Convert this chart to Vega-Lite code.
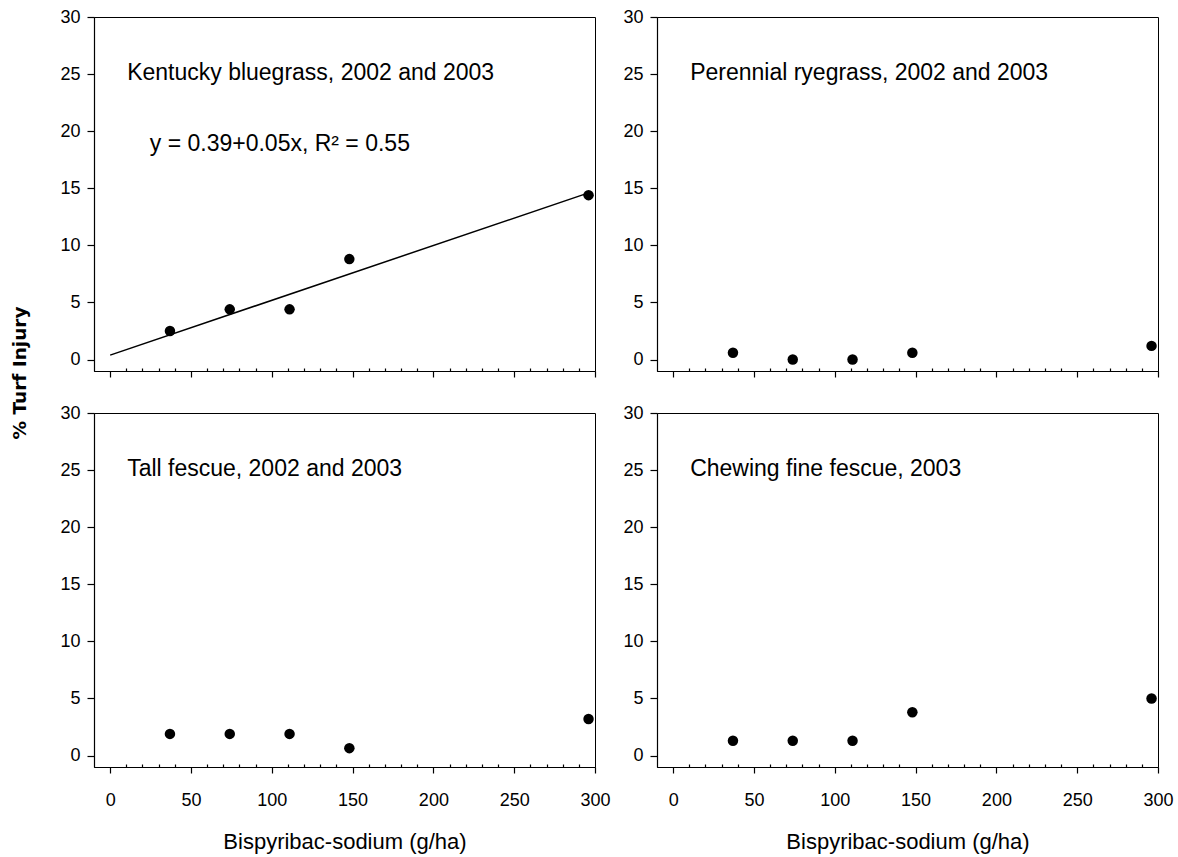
{
  "$schema": "https://vega.github.io/schema/vega-lite/v6.json",
  "background": "white",
  "padding": {"left": 10, "top": 7, "right": 5, "bottom": 5},
  "title": {"text": "% Turf Injury", "orient": "left", "anchor": "middle", "font": "DejaVu Sans", "fontSize": 18.5, "fontWeight": "bold", "color": "black", "offset": 30, "dx": 57},
  "datasets": {
    "pts": [
      {"panel": "KB", "rate": 37, "injury": 2.5},
      {"panel": "KB", "rate": 74, "injury": 4.4},
      {"panel": "KB", "rate": 111, "injury": 4.4},
      {"panel": "KB", "rate": 148, "injury": 8.8},
      {"panel": "KB", "rate": 296, "injury": 14.4},
      {"panel": "PR", "rate": 37, "injury": 0.6},
      {"panel": "PR", "rate": 74, "injury": 0},
      {"panel": "PR", "rate": 111, "injury": 0},
      {"panel": "PR", "rate": 148, "injury": 0.6},
      {"panel": "PR", "rate": 296, "injury": 1.2},
      {"panel": "TF", "rate": 37, "injury": 1.9},
      {"panel": "TF", "rate": 74, "injury": 1.9},
      {"panel": "TF", "rate": 111, "injury": 1.9},
      {"panel": "TF", "rate": 148, "injury": 0.65},
      {"panel": "TF", "rate": 296, "injury": 3.2},
      {"panel": "CF", "rate": 37, "injury": 1.3},
      {"panel": "CF", "rate": 74, "injury": 1.3},
      {"panel": "CF", "rate": 111, "injury": 1.3},
      {"panel": "CF", "rate": 148, "injury": 3.8},
      {"panel": "CF", "rate": 296, "injury": 5.0}
    ],
    "fit": [
      {"panel": "KB", "rate": 0, "injury": 0.39},
      {"panel": "KB", "rate": 296, "injury": 14.6}
    ],
    "notes": [
      {"panel": "KB", "rate": 10.5, "injury": 25.1, "label": "Kentucky bluegrass, 2002 and 2003", "kind": "title"},
      {"panel": "KB", "rate": 24.5, "injury": 18.9, "label": "y = 0.39+0.05x, R² = 0.55", "kind": "eq"},
      {"panel": "PR", "rate": 10.5, "injury": 25.1, "label": "Perennial ryegrass, 2002 and 2003", "kind": "title"},
      {"panel": "TF", "rate": 10.5, "injury": 25.1, "label": "Tall fescue, 2002 and 2003", "kind": "title"},
      {"panel": "CF", "rate": 10.5, "injury": 25.1, "label": "Chewing fine fescue, 2003", "kind": "title"}
    ]
  },
  "columns": 2,
  "spacing": {"row": 42, "column": 62},
  "bounds": "flush",
  "concat": [
    {
      "width": 501, "height": 354,
      "encoding": {
        "x": {"field": "rate", "type": "quantitative", "scale": {"domain": [-10, 300], "nice": false, "zero": false},
          "axis": {"values": [0,10,20,30,40,50,60,70,80,90,100,110,120,130,140,150,160,170,180,190,200,210,220,230,240,250,260,270,280,290,300], "labels": false, "title": null, "tickSize": {"condition": {"test": "datum.value % 50 === 0", "value": 6}, "value": -3}}},
        "y": {"field": "injury", "type": "quantitative", "scale": {"domain": [-1, 30], "nice": false, "zero": false}, "axis": {"values": [0,5,10,15,20,25,30], "title": null}}
      },
      "layer": [
        {
          "data": {"name": "fit"},
          "transform": [{"filter": "datum.panel === 'KB'"}],
          "mark": {"type": "line", "color": "black", "strokeWidth": 1.5}
        },
        {
          "data": {"name": "pts"},
          "transform": [{"filter": "datum.panel === 'KB'"}],
          "mark": {"type": "point", "filled": true, "size": 110, "color": "black", "opacity": 1}
        },
        {
          "data": {"name": "notes"},
          "transform": [{"filter": "datum.panel === 'KB' && datum.kind === 'title'"}],
          "mark": {"type": "text", "align": "left", "baseline": "middle", "font": "Liberation Sans", "fontSize": 23, "color": "black"},
          "encoding": {"text": {"field": "label"}}
        },
        {
          "data": {"name": "notes"},
          "transform": [{"filter": "datum.panel === 'KB' && datum.kind === 'eq'"}],
          "mark": {"type": "text", "align": "left", "baseline": "middle", "font": "Liberation Sans", "fontSize": 23, "color": "black"},
          "encoding": {"text": {"field": "label"}}
        }
      ]
    },
    {
      "width": 501, "height": 354,
      "encoding": {
        "x": {"field": "rate", "type": "quantitative", "scale": {"domain": [-10, 300], "nice": false, "zero": false},
          "axis": {"values": [0,10,20,30,40,50,60,70,80,90,100,110,120,130,140,150,160,170,180,190,200,210,220,230,240,250,260,270,280,290,300], "labels": false, "title": null, "tickSize": {"condition": {"test": "datum.value % 50 === 0", "value": 6}, "value": -3}}},
        "y": {"field": "injury", "type": "quantitative", "scale": {"domain": [-1, 30], "nice": false, "zero": false}, "axis": {"values": [0,5,10,15,20,25,30], "title": null}}
      },
      "layer": [
        {
          "data": {"name": "pts"},
          "transform": [{"filter": "datum.panel === 'PR'"}],
          "mark": {"type": "point", "filled": true, "size": 110, "color": "black", "opacity": 1}
        },
        {
          "data": {"name": "notes"},
          "transform": [{"filter": "datum.panel === 'PR'"}],
          "mark": {"type": "text", "align": "left", "baseline": "middle", "font": "Liberation Sans", "fontSize": 23, "color": "black"},
          "encoding": {"text": {"field": "label"}}
        }
      ]
    },
    {
      "width": 501, "height": 354,
      "encoding": {
        "x": {"field": "rate", "type": "quantitative", "scale": {"domain": [-10, 300], "nice": false, "zero": false},
          "axis": {"values": [0,10,20,30,40,50,60,70,80,90,100,110,120,130,140,150,160,170,180,190,200,210,220,230,240,250,260,270,280,290,300], "labelExpr": "datum.value % 50 === 0 ? datum.label : ''", "title": "Bispyribac-sodium (g/ha)", "tickSize": {"condition": {"test": "datum.value % 50 === 0", "value": 6}, "value": -3}}},
        "y": {"field": "injury", "type": "quantitative", "scale": {"domain": [-1, 30], "nice": false, "zero": false}, "axis": {"values": [0,5,10,15,20,25,30], "title": null}}
      },
      "layer": [
        {
          "data": {"name": "pts"},
          "transform": [{"filter": "datum.panel === 'TF'"}],
          "mark": {"type": "point", "filled": true, "size": 110, "color": "black", "opacity": 1}
        },
        {
          "data": {"name": "notes"},
          "transform": [{"filter": "datum.panel === 'TF'"}],
          "mark": {"type": "text", "align": "left", "baseline": "middle", "font": "Liberation Sans", "fontSize": 23, "color": "black"},
          "encoding": {"text": {"field": "label"}}
        }
      ]
    },
    {
      "width": 501, "height": 354,
      "encoding": {
        "x": {"field": "rate", "type": "quantitative", "scale": {"domain": [-10, 300], "nice": false, "zero": false},
          "axis": {"values": [0,10,20,30,40,50,60,70,80,90,100,110,120,130,140,150,160,170,180,190,200,210,220,230,240,250,260,270,280,290,300], "labelExpr": "datum.value % 50 === 0 ? datum.label : ''", "title": "Bispyribac-sodium (g/ha)", "tickSize": {"condition": {"test": "datum.value % 50 === 0", "value": 6}, "value": -3}}},
        "y": {"field": "injury", "type": "quantitative", "scale": {"domain": [-1, 30], "nice": false, "zero": false}, "axis": {"values": [0,5,10,15,20,25,30], "title": null}}
      },
      "layer": [
        {
          "data": {"name": "pts"},
          "transform": [{"filter": "datum.panel === 'CF'"}],
          "mark": {"type": "point", "filled": true, "size": 110, "color": "black", "opacity": 1}
        },
        {
          "data": {"name": "notes"},
          "transform": [{"filter": "datum.panel === 'CF'"}],
          "mark": {"type": "text", "align": "left", "baseline": "middle", "font": "Liberation Sans", "fontSize": 23, "color": "black"},
          "encoding": {"text": {"field": "label"}}
        }
      ]
    }
  ],
  "config": {
    "view": {"stroke": "black", "strokeWidth": 1},
    "axis": {
      "domainColor": "black", "domainWidth": 1.2, "tickColor": "black", "tickWidth": 1.2,
      "labelColor": "black", "titleColor": "black", "labelFont": "Liberation Sans", "titleFont": "Liberation Sans",
      "labelFontSize": 18, "titleFontSize": 22, "titleFontWeight": "normal", "grid": false
    },
    "axisY": {"tickSize": 7, "labelPadding": 7},
    "axisX": {"labelPadding": 18, "titlePadding": 22, "labelFlush": false, "labelOverlap": false}
  }
}
